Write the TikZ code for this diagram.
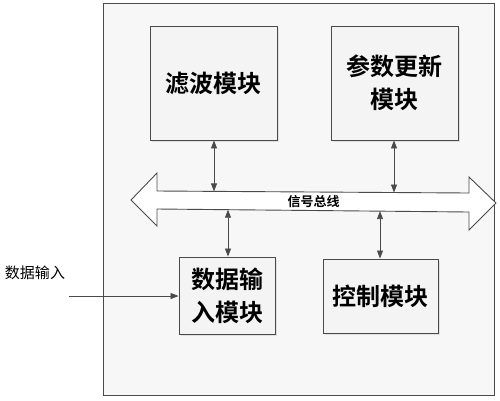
\documentclass[tikz,border=0pt]{standalone}
\usepackage{fontspec}
\newfontfamily\cjk[BoldFont={Noto Sans CJK SC Bold}]{Noto Sans CJK SC}
\usetikzlibrary{arrows.meta,shadows}
\definecolor{linec}{HTML}{4A4A4A}
\tikzset{
  module/.style={draw=linec, line width=0.9pt, fill=gray!9, align=center,
    font=\cjk\bfseries\fontsize{24}{33}\selectfont, inner sep=0pt,
    drop shadow={shadow xshift=1.5pt, shadow yshift=-1.5pt, fill=gray!35, opacity=0.6}},
  link/.style={draw=linec, line width=0.8pt, {Triangle[length=8pt,width=6pt]}-{Triangle[length=8pt,width=6pt]}},
  feed/.style={draw=linec, line width=0.8pt, -{Triangle[length=8pt,width=6pt]}},
}
\begin{document}
\begin{tikzpicture}[x=1pt,y=-1pt]
\useasboundingbox (0,0) rectangle (500,400);
% outer frame
\node[draw=linec, line width=0.9pt, fill=gray!6, minimum width=391pt, minimum height=392pt, inner sep=0pt] (frame) at (298.5,199) {};
% modules
\node[module, minimum width=127pt, minimum height=114pt] (filter) at (213.5,83) {滤波模块};
\node[module, minimum width=127pt, minimum height=114pt] (param) at (394.5,83) {参数更新\\模块};
\node[module, minimum width=96pt, minimum height=77pt] (datain) at (227,295.5) {数据输\\入模块};
\node[module, minimum width=115pt, minimum height=74pt] (control) at (380.5,296) {控制模块};
% signal bus
\draw[draw=linec, line width=0.9pt, fill=white, line join=miter]
  (131,200) -- (157,173) -- (157,191) -- (469,193) -- (469,177) -- (496,203)
  -- (469,230) -- (469,212) -- (157,209) -- (157,226) -- cycle;
\node[font=\cjk\bfseries\fontsize{13}{15}\selectfont, inner sep=0pt] (bus) at (313.5,202) {信号总线};
\coordinate (bt1) at (214,191.4);
\coordinate (bt2) at (394,192.5);
\coordinate (bb1) at (228,209.7);
\coordinate (bb2) at (380,211.1);
% links
\draw[link] (filter.south -| bt1) -- (bt1);
\draw[link] (param.south -| bt2) -- (bt2);
\draw[link] (bb1) -- (datain.north -| bb1);
\draw[link] (bb2) -- (control.north -| bb2);
% data input
\coordinate (in) at (69,296);
\draw[feed] (in) -- (datain.west |- in);
\node[font=\cjk\fontsize{15}{18}\selectfont, inner sep=0pt] (inlabel) at (35,273) {数据输入};
\end{tikzpicture}
\end{document}
